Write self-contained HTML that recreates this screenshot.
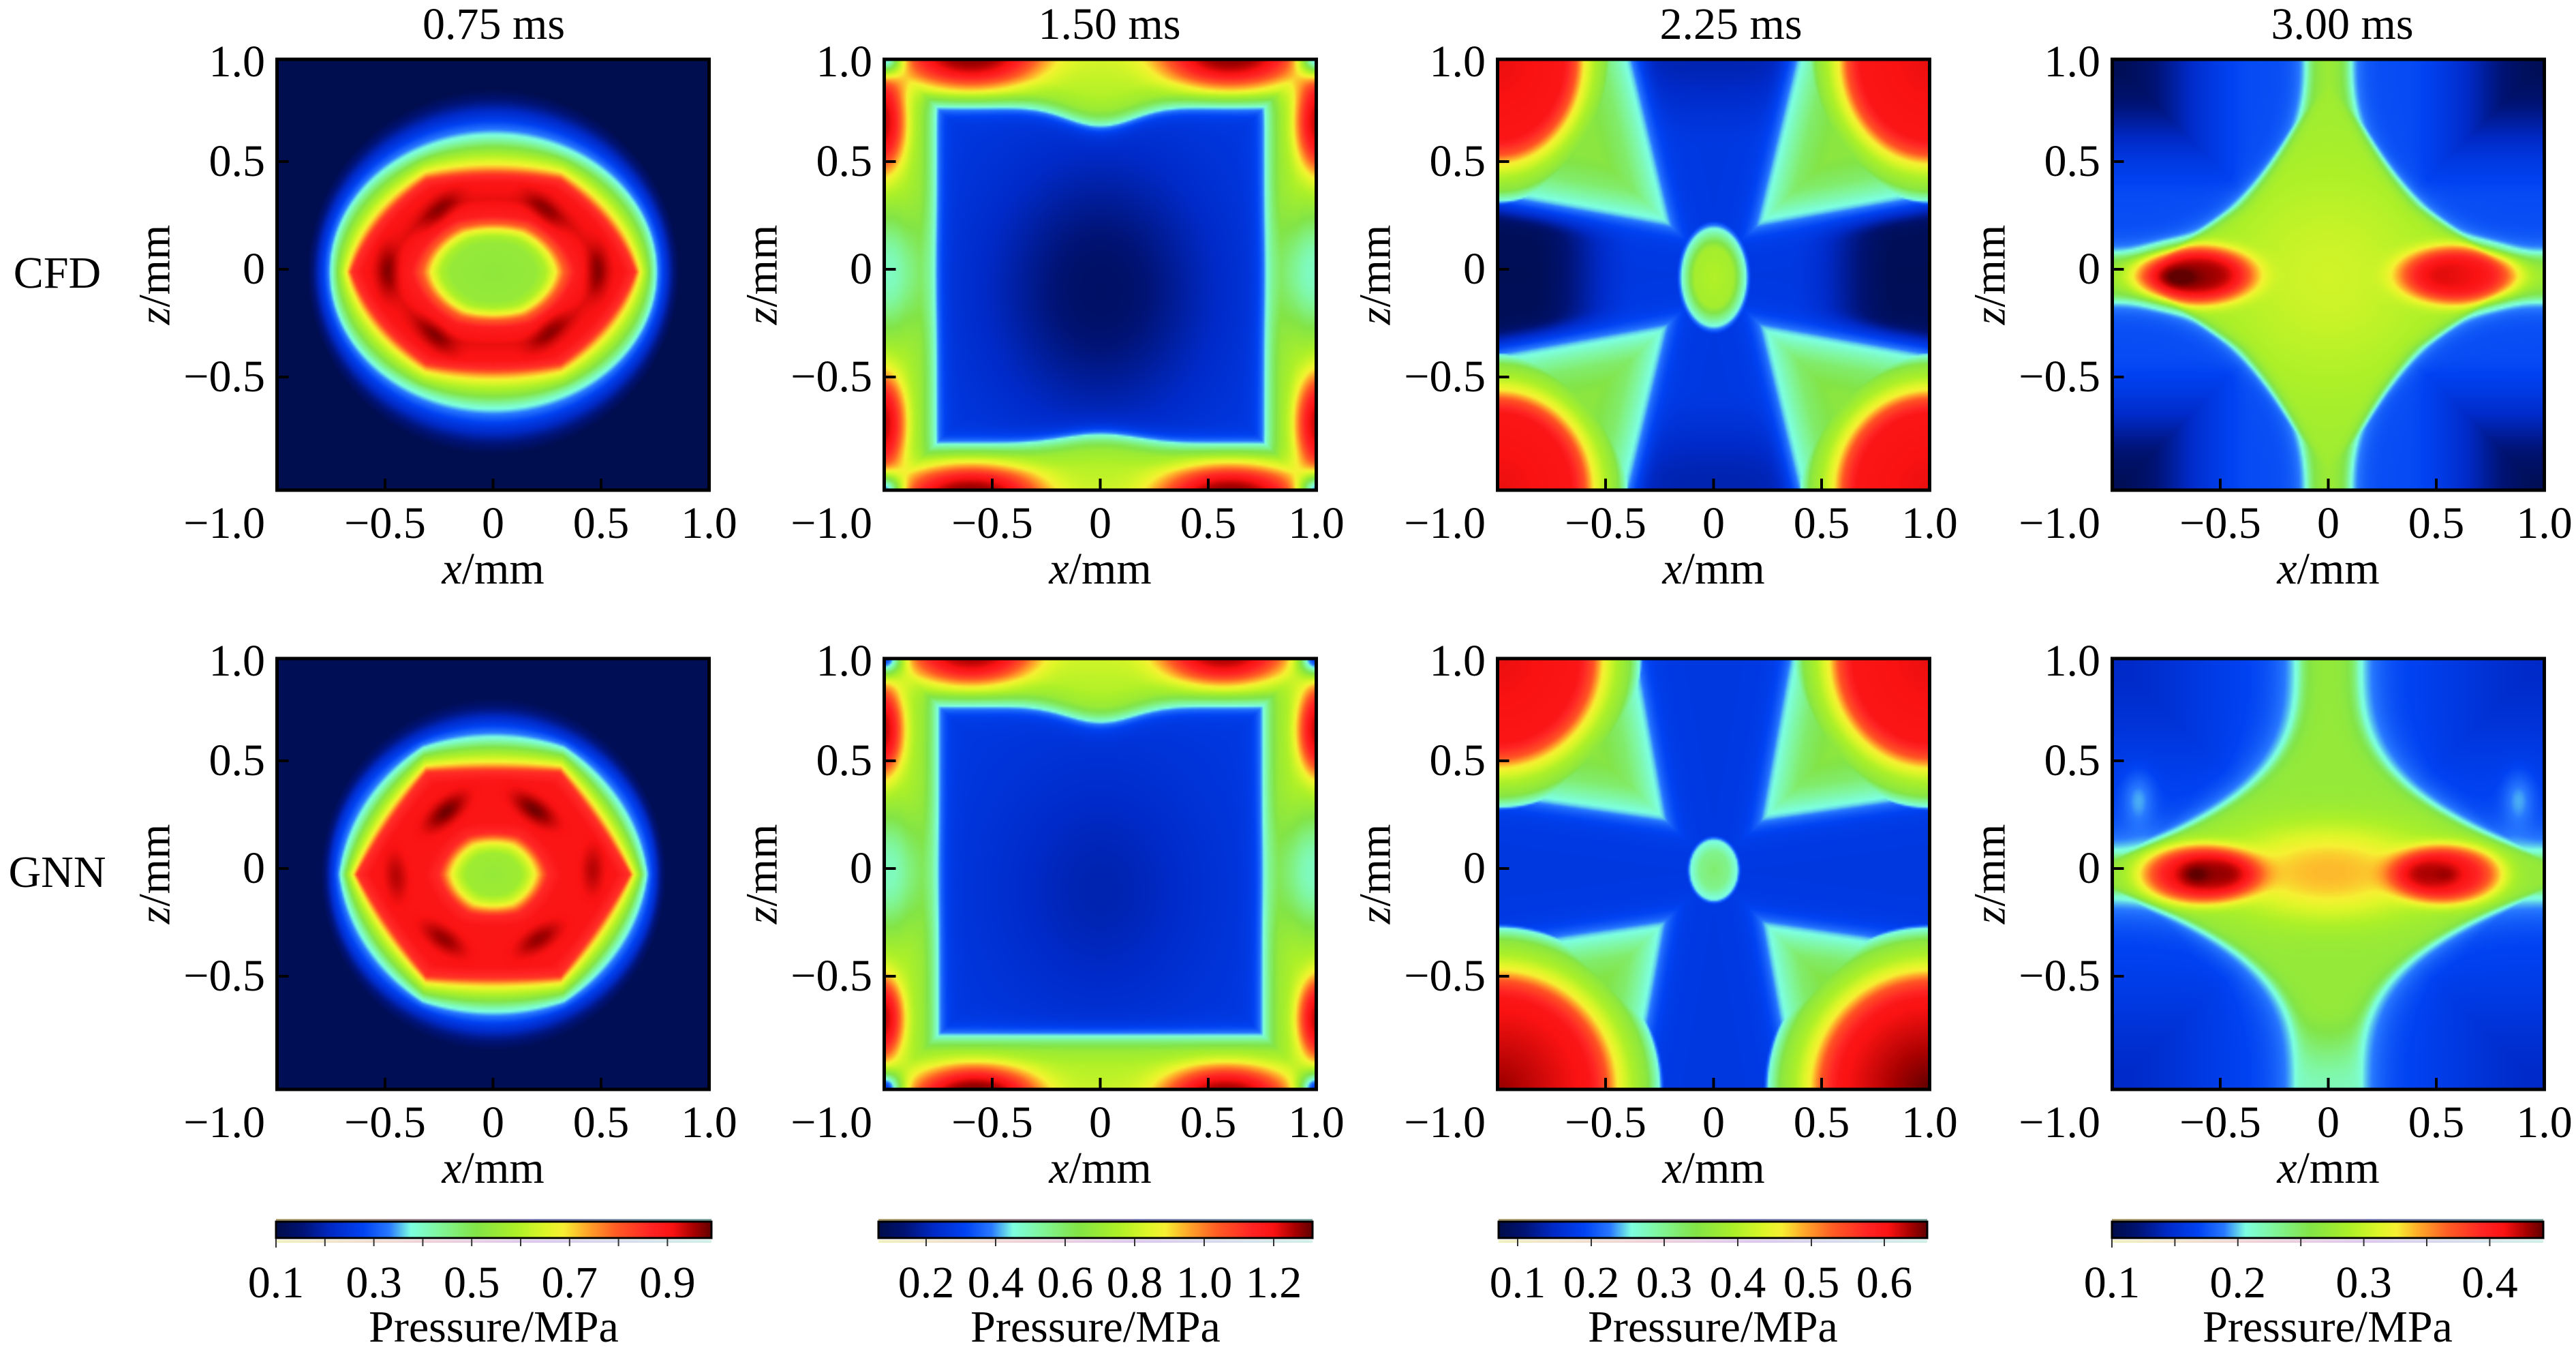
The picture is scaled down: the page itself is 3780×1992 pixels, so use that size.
<!DOCTYPE html>
<html><head><meta charset="utf-8">
<style>
html,body{margin:0;padding:0;background:#fff;}
body{width:3780px;height:1992px;position:relative;overflow:hidden;}
canvas{position:absolute;display:block;}
svg{position:absolute;left:0;top:0;}
text{font-family:"Liberation Serif","DejaVu Serif",serif;font-size:66px;fill:#000;}
</style></head><body>
<canvas id="c0" width="240" height="240" style="left:406.5px;top:87px;width:634px;height:632px;background:#000c48"></canvas>
<canvas id="c1" width="240" height="240" style="left:1297.5px;top:87px;width:634px;height:632px;background:#0a3ad0"></canvas>
<canvas id="c2" width="240" height="240" style="left:2197.5px;top:87px;width:634px;height:632px;background:#0a3ad0"></canvas>
<canvas id="c3" width="240" height="240" style="left:3099.5px;top:87px;width:634px;height:632px;background:#0a3ad0"></canvas>
<canvas id="c4" width="240" height="240" style="left:406.5px;top:966px;width:634px;height:632px;background:#000c48"></canvas>
<canvas id="c5" width="240" height="240" style="left:1297.5px;top:966px;width:634px;height:632px;background:#0a3ad0"></canvas>
<canvas id="c6" width="240" height="240" style="left:2197.5px;top:966px;width:634px;height:632px;background:#0a3ad0"></canvas>
<canvas id="c7" width="240" height="240" style="left:3099.5px;top:966px;width:634px;height:632px;background:#0a3ad0"></canvas>

<svg width="3780" height="1992" viewBox="0 0 3780 1992">
<defs>
<linearGradient id="jet" x1="0" y1="0" x2="1" y2="0">
<stop offset="0" stop-color="rgb(0,12,72)"/>
<stop offset="0.06" stop-color="rgb(0,18,115)"/>
<stop offset="0.13" stop-color="rgb(0,42,200)"/>
<stop offset="0.20" stop-color="rgb(0,66,242)"/>
<stop offset="0.26" stop-color="rgb(40,120,255)"/>
<stop offset="0.31" stop-color="rgb(125,255,225)"/>
<stop offset="0.38" stop-color="rgb(128,245,150)"/>
<stop offset="0.46" stop-color="rgb(130,228,70)"/>
<stop offset="0.55" stop-color="rgb(172,240,40)"/>
<stop offset="0.62" stop-color="rgb(222,246,40)"/>
<stop offset="0.66" stop-color="rgb(246,240,50)"/>
<stop offset="0.71" stop-color="rgb(255,172,42)"/>
<stop offset="0.78" stop-color="rgb(255,92,36)"/>
<stop offset="0.86" stop-color="rgb(255,36,36)"/>
<stop offset="0.91" stop-color="rgb(250,18,18)"/>
<stop offset="0.96" stop-color="rgb(168,0,0)"/>
<stop offset="1" stop-color="rgb(96,0,0)"/>
</linearGradient>
<linearGradient id="art1" x1="0" y1="0" x2="1" y2="0">
<stop offset="0" stop-color="#b0a070"/><stop offset="0.3" stop-color="#a08890"/><stop offset="0.6" stop-color="#8080b8"/><stop offset="1" stop-color="#80a8a0"/>
</linearGradient>
<linearGradient id="art2" x1="0" y1="0" x2="1" y2="0">
<stop offset="0" stop-color="#f0f0c0"/><stop offset="0.35" stop-color="#f0d0d8"/><stop offset="0.6" stop-color="#dcc8f0"/><stop offset="1" stop-color="#d0f0e8"/>
</linearGradient>
</defs>

<!-- titles -->
<text x="724.5" y="57" text-anchor="middle">0.75 ms</text>
<text x="1628" y="57" text-anchor="middle">1.50 ms</text>
<text x="2540" y="57" text-anchor="middle">2.25 ms</text>
<text x="3437" y="57" text-anchor="middle">3.00 ms</text>

<!-- row labels -->
<text x="84" y="422" text-anchor="middle">CFD</text>
<text x="84" y="1301" text-anchor="middle">GNN</text>

<!-- Row 1 -->
<g transform="translate(406.5,87)">
<path d="M0,150h17M0,308h17M0,466h17M158.5,632v-17M317,632v-17M475.5,632v-17" stroke="#000" stroke-width="4" fill="none"/>
<rect x="0" y="0" width="634" height="632" fill="none" stroke="#000" stroke-width="5"/>
<text x="-17.5" y="25" text-anchor="end">1.0</text>
<text x="-17.5" y="171" text-anchor="end">0.5</text>
<text x="-17.5" y="329" text-anchor="end">0</text>
<text x="-17.5" y="487" text-anchor="end">−0.5</text>
<text x="-17.5" y="702" text-anchor="end">−1.0</text>
<text x="158.5" y="702" text-anchor="middle">−0.5</text>
<text x="317" y="702" text-anchor="middle">0</text>
<text x="475.5" y="702" text-anchor="middle">0.5</text>
<text x="634" y="702" text-anchor="middle">1.0</text>
<text x="317" y="769" text-anchor="middle"><tspan font-style="italic">x</tspan>/mm</text>
<text transform="translate(-158,316) rotate(-90)" text-anchor="middle"><tspan font-style="italic">z</tspan>/mm</text>
</g>
<g transform="translate(1297.5,87)">
<path d="M0,150h17M0,308h17M0,466h17M158.5,632v-17M317,632v-17M475.5,632v-17" stroke="#000" stroke-width="4" fill="none"/>
<rect x="0" y="0" width="634" height="632" fill="none" stroke="#000" stroke-width="5"/>
<text x="-17.5" y="25" text-anchor="end">1.0</text>
<text x="-17.5" y="171" text-anchor="end">0.5</text>
<text x="-17.5" y="329" text-anchor="end">0</text>
<text x="-17.5" y="487" text-anchor="end">−0.5</text>
<text x="-17.5" y="702" text-anchor="end">−1.0</text>
<text x="158.5" y="702" text-anchor="middle">−0.5</text>
<text x="317" y="702" text-anchor="middle">0</text>
<text x="475.5" y="702" text-anchor="middle">0.5</text>
<text x="634" y="702" text-anchor="middle">1.0</text>
<text x="317" y="769" text-anchor="middle"><tspan font-style="italic">x</tspan>/mm</text>
<text transform="translate(-158,316) rotate(-90)" text-anchor="middle"><tspan font-style="italic">z</tspan>/mm</text>
</g>
<g transform="translate(2197.5,87)">
<path d="M0,150h17M0,308h17M0,466h17M158.5,632v-17M317,632v-17M475.5,632v-17" stroke="#000" stroke-width="4" fill="none"/>
<rect x="0" y="0" width="634" height="632" fill="none" stroke="#000" stroke-width="5"/>
<text x="-17.5" y="25" text-anchor="end">1.0</text>
<text x="-17.5" y="171" text-anchor="end">0.5</text>
<text x="-17.5" y="329" text-anchor="end">0</text>
<text x="-17.5" y="487" text-anchor="end">−0.5</text>
<text x="-17.5" y="702" text-anchor="end">−1.0</text>
<text x="158.5" y="702" text-anchor="middle">−0.5</text>
<text x="317" y="702" text-anchor="middle">0</text>
<text x="475.5" y="702" text-anchor="middle">0.5</text>
<text x="634" y="702" text-anchor="middle">1.0</text>
<text x="317" y="769" text-anchor="middle"><tspan font-style="italic">x</tspan>/mm</text>
<text transform="translate(-158,316) rotate(-90)" text-anchor="middle"><tspan font-style="italic">z</tspan>/mm</text>
</g>
<g transform="translate(3099.5,87)">
<path d="M0,150h17M0,308h17M0,466h17M158.5,632v-17M317,632v-17M475.5,632v-17" stroke="#000" stroke-width="4" fill="none"/>
<rect x="0" y="0" width="634" height="632" fill="none" stroke="#000" stroke-width="5"/>
<text x="-17.5" y="25" text-anchor="end">1.0</text>
<text x="-17.5" y="171" text-anchor="end">0.5</text>
<text x="-17.5" y="329" text-anchor="end">0</text>
<text x="-17.5" y="487" text-anchor="end">−0.5</text>
<text x="-17.5" y="702" text-anchor="end">−1.0</text>
<text x="158.5" y="702" text-anchor="middle">−0.5</text>
<text x="317" y="702" text-anchor="middle">0</text>
<text x="475.5" y="702" text-anchor="middle">0.5</text>
<text x="634" y="702" text-anchor="middle">1.0</text>
<text x="317" y="769" text-anchor="middle"><tspan font-style="italic">x</tspan>/mm</text>
<text transform="translate(-158,316) rotate(-90)" text-anchor="middle"><tspan font-style="italic">z</tspan>/mm</text>
</g>

<!-- Row 2 -->
<g transform="translate(406.5,966)">
<path d="M0,150h17M0,308h17M0,466h17M158.5,632v-17M317,632v-17M475.5,632v-17" stroke="#000" stroke-width="4" fill="none"/>
<rect x="0" y="0" width="634" height="632" fill="none" stroke="#000" stroke-width="5"/>
<text x="-17.5" y="25" text-anchor="end">1.0</text>
<text x="-17.5" y="171" text-anchor="end">0.5</text>
<text x="-17.5" y="329" text-anchor="end">0</text>
<text x="-17.5" y="487" text-anchor="end">−0.5</text>
<text x="-17.5" y="702" text-anchor="end">−1.0</text>
<text x="158.5" y="702" text-anchor="middle">−0.5</text>
<text x="317" y="702" text-anchor="middle">0</text>
<text x="475.5" y="702" text-anchor="middle">0.5</text>
<text x="634" y="702" text-anchor="middle">1.0</text>
<text x="317" y="769" text-anchor="middle"><tspan font-style="italic">x</tspan>/mm</text>
<text transform="translate(-158,316) rotate(-90)" text-anchor="middle"><tspan font-style="italic">z</tspan>/mm</text>
</g>
<g transform="translate(1297.5,966)">
<path d="M0,150h17M0,308h17M0,466h17M158.5,632v-17M317,632v-17M475.5,632v-17" stroke="#000" stroke-width="4" fill="none"/>
<rect x="0" y="0" width="634" height="632" fill="none" stroke="#000" stroke-width="5"/>
<text x="-17.5" y="25" text-anchor="end">1.0</text>
<text x="-17.5" y="171" text-anchor="end">0.5</text>
<text x="-17.5" y="329" text-anchor="end">0</text>
<text x="-17.5" y="487" text-anchor="end">−0.5</text>
<text x="-17.5" y="702" text-anchor="end">−1.0</text>
<text x="158.5" y="702" text-anchor="middle">−0.5</text>
<text x="317" y="702" text-anchor="middle">0</text>
<text x="475.5" y="702" text-anchor="middle">0.5</text>
<text x="634" y="702" text-anchor="middle">1.0</text>
<text x="317" y="769" text-anchor="middle"><tspan font-style="italic">x</tspan>/mm</text>
<text transform="translate(-158,316) rotate(-90)" text-anchor="middle"><tspan font-style="italic">z</tspan>/mm</text>
</g>
<g transform="translate(2197.5,966)">
<path d="M0,150h17M0,308h17M0,466h17M158.5,632v-17M317,632v-17M475.5,632v-17" stroke="#000" stroke-width="4" fill="none"/>
<rect x="0" y="0" width="634" height="632" fill="none" stroke="#000" stroke-width="5"/>
<text x="-17.5" y="25" text-anchor="end">1.0</text>
<text x="-17.5" y="171" text-anchor="end">0.5</text>
<text x="-17.5" y="329" text-anchor="end">0</text>
<text x="-17.5" y="487" text-anchor="end">−0.5</text>
<text x="-17.5" y="702" text-anchor="end">−1.0</text>
<text x="158.5" y="702" text-anchor="middle">−0.5</text>
<text x="317" y="702" text-anchor="middle">0</text>
<text x="475.5" y="702" text-anchor="middle">0.5</text>
<text x="634" y="702" text-anchor="middle">1.0</text>
<text x="317" y="769" text-anchor="middle"><tspan font-style="italic">x</tspan>/mm</text>
<text transform="translate(-158,316) rotate(-90)" text-anchor="middle"><tspan font-style="italic">z</tspan>/mm</text>
</g>
<g transform="translate(3099.5,966)">
<path d="M0,150h17M0,308h17M0,466h17M158.5,632v-17M317,632v-17M475.5,632v-17" stroke="#000" stroke-width="4" fill="none"/>
<rect x="0" y="0" width="634" height="632" fill="none" stroke="#000" stroke-width="5"/>
<text x="-17.5" y="25" text-anchor="end">1.0</text>
<text x="-17.5" y="171" text-anchor="end">0.5</text>
<text x="-17.5" y="329" text-anchor="end">0</text>
<text x="-17.5" y="487" text-anchor="end">−0.5</text>
<text x="-17.5" y="702" text-anchor="end">−1.0</text>
<text x="158.5" y="702" text-anchor="middle">−0.5</text>
<text x="317" y="702" text-anchor="middle">0</text>
<text x="475.5" y="702" text-anchor="middle">0.5</text>
<text x="634" y="702" text-anchor="middle">1.0</text>
<text x="317" y="769" text-anchor="middle"><tspan font-style="italic">x</tspan>/mm</text>
<text transform="translate(-158,316) rotate(-90)" text-anchor="middle"><tspan font-style="italic">z</tspan>/mm</text>
</g>

<!-- Colorbars -->
<rect x="405" y="1788" width="639" height="3" fill="url(#art1)"/>
<rect x="405" y="1819" width="639" height="4" fill="url(#art2)"/>
<rect x="405" y="1792" width="639" height="24" fill="url(#jet)" stroke="#000" stroke-width="3"/>
<path d="M405,1817v13M476.8,1817v11M548.6,1817v11M620.4,1817v11M692.2,1817v11M764,1817v11M835.8,1817v11M907.6,1817v11M979.4,1817v11" stroke="#333" stroke-width="2"/>
<text x="405" y="1903" text-anchor="middle">0.1</text>
<text x="548.6" y="1903" text-anchor="middle">0.3</text>
<text x="692.2" y="1903" text-anchor="middle">0.5</text>
<text x="835.8" y="1903" text-anchor="middle">0.7</text>
<text x="979.4" y="1903" text-anchor="middle">0.9</text>
<text x="724.5" y="1968" text-anchor="middle">Pressure/MPa</text>

<rect x="1289" y="1788" width="637" height="3" fill="url(#art1)"/>
<rect x="1289" y="1819" width="637" height="4" fill="url(#art2)"/>
<rect x="1289" y="1792" width="637" height="24" fill="url(#jet)" stroke="#000" stroke-width="3"/>
<path d="M1359,1817v11M1461,1817v11M1563,1817v11M1665,1817v11M1767,1817v11M1869,1817v11" stroke="#333" stroke-width="2"/>
<text x="1359" y="1903" text-anchor="middle">0.2</text>
<text x="1461" y="1903" text-anchor="middle">0.4</text>
<text x="1563" y="1903" text-anchor="middle">0.6</text>
<text x="1665" y="1903" text-anchor="middle">0.8</text>
<text x="1767" y="1903" text-anchor="middle">1.0</text>
<text x="1869" y="1903" text-anchor="middle">1.2</text>
<text x="1607.5" y="1968" text-anchor="middle">Pressure/MPa</text>

<rect x="2199" y="1788" width="629" height="3" fill="url(#art1)"/>
<rect x="2199" y="1819" width="629" height="4" fill="url(#art2)"/>
<rect x="2199" y="1792" width="629" height="24" fill="url(#jet)" stroke="#000" stroke-width="3"/>
<path d="M2227,1817v11M2335,1817v11M2442,1817v11M2550,1817v11M2658,1817v11M2765,1817v11" stroke="#333" stroke-width="2"/>
<text x="2227" y="1903" text-anchor="middle">0.1</text>
<text x="2335" y="1903" text-anchor="middle">0.2</text>
<text x="2442" y="1903" text-anchor="middle">0.3</text>
<text x="2550" y="1903" text-anchor="middle">0.4</text>
<text x="2658" y="1903" text-anchor="middle">0.5</text>
<text x="2765" y="1903" text-anchor="middle">0.6</text>
<text x="2513.5" y="1968" text-anchor="middle">Pressure/MPa</text>

<rect x="3099" y="1788" width="633" height="3" fill="url(#art1)"/>
<rect x="3099" y="1819" width="633" height="4" fill="url(#art2)"/>
<rect x="3099" y="1792" width="633" height="24" fill="url(#jet)" stroke="#000" stroke-width="3"/>
<path d="M3099,1817v13M3191.4,1817v11M3283.8,1817v11M3376.2,1817v11M3468.6,1817v11M3561,1817v11M3653.4,1817v11" stroke="#333" stroke-width="2"/>
<text x="3099" y="1903" text-anchor="middle">0.1</text>
<text x="3283.8" y="1903" text-anchor="middle">0.2</text>
<text x="3468.6" y="1903" text-anchor="middle">0.3</text>
<text x="3653.4" y="1903" text-anchor="middle">0.4</text>
<text x="3415.5" y="1968" text-anchor="middle">Pressure/MPa</text>
</svg>

<script>
(function(){
var CM=[[0,0,12,72],[0.06,0,18,115],[0.13,0,42,200],[0.2,0,66,242],[0.26,40,120,255],[0.31,125,255,225],[0.38,128,245,150],[0.46,130,228,70],[0.55,172,240,40],[0.62,222,246,40],[0.66,246,240,50],[0.71,255,172,42],[0.78,255,92,36],[0.86,255,36,36],[0.91,250,18,18],[0.96,168,0,0],[1,96,0,0]];
function sq(v){return v*v;}
function cmap(t){
  var i,a,b,f,e;
  if(!(t>0)) return [CM[0][1],CM[0][2],CM[0][3]];
  if(t>=1){e=CM[CM.length-1];return [e[1],e[2],e[3]];}
  for(i=1;i<CM.length;i++){ if(t<=CM[i][0]){ a=CM[i-1];b=CM[i];f=(t-a[0])/(b[0]-a[0]); return [a[1]+(b[1]-a[1])*f,a[2]+(b[2]-a[2])*f,a[3]+(b[3]-a[3])*f]; } }
  e=CM[CM.length-1];return [e[1],e[2],e[3]];
}
function sm(a,b,x){var t=Math.min(1,Math.max(0,(x-a)/(b-a)));return t*t*(3-2*t);}
function pf(d,p){ if(d<=p[0][0]) return p[0][1]; for(var i=1;i<p.length;i++){ if(d<=p[i][0]){ var f=(d-p[i-1][0])/(p[i][0]-p[i-1][0]); return p[i-1][1]+(p[i][1]-p[i-1][1])*f; } } return p[p.length-1][1]; }
function gp(x,z,cx,cz,sx,sz,p){var q=sq((x-cx)/sx)+sq((z-cz)/sz); return Math.exp(-Math.pow(q,p));}
function gr(x,z,cx,cz,st,sr){ var r=Math.sqrt(cx*cx+cz*cz)||1, ux=cx/r, uz=cz/r; var dx=x-cx, dz=z-cz; var a=dx*ux+dz*uz, b=-dx*uz+dz*ux; return Math.exp(-sq(a/sr)-sq(b/st)); }

/* ring panels */
function hexn(x,z,a,h){ var ax=Math.abs(x), az=Math.abs(z); return Math.max(az/h, ax/a+az/(2*h)); }
function rn(x,zz,a,h,w){ return (1-w)*hexn(x,zz,a,h)+w*Math.sqrt(sq(x/a)+sq(zz/h)); }
function ringS(x,z,P){
  var zz=z-P.zc;
  var hx=hexn(x,zz,P.a,P.h);
  if(hx<=1.05){ var w=P.w0+(1-P.w0)*Math.max(0,1-hx); var s0=rn(x,zz,P.a,P.h,w); if(s0<=1) return s0; }
  function N(s){var A=P.a+P.da*(s-1), Hh=P.h+P.dh*(s-1), m=Math.min(1,P.w0+(s-1)*P.mr); return rn(x,zz,A,Hh,m);}
  var lo=1, hi=4;
  for(var k=0;k<22;k++){ var mid=(lo+hi)/2; if(N(mid)>1) lo=mid; else hi=mid; }
  return (lo+hi)/2;
}
function ring(P,PR,S){return function(x,z){var t=pf(ringS(x,z,P),PR);for(var i=0;i<S.length;i++){var s=S[i];t+=s[2]*gr(x,z,s[0],s[1],0.11,0.05);}return t;};}
var P1={a:0.655,h:0.45,zc:-0.015,da:0.33,dh:0.64,mr:2,w0:0.5};
var PR1=[[0,0.49],[0.3,0.5],[0.37,0.55],[0.44,0.66],[0.5,0.78],[0.58,0.88],[0.75,0.92],[0.92,0.9],[1.0,0.84],[1.05,0.71],[1.1,0.62],[1.18,0.5],[1.27,0.34],[1.33,0.26],[1.42,0.17],[1.52,0.08],[1.62,0.01]];
var S1=[[-0.25,0.27,0.06],[0.24,0.27,0.06],[-0.49,-0.01,0.06],[0.48,-0.01,0.06],[-0.27,-0.31,0.06],[0.26,-0.29,0.06]];
var P5={a:0.63,h:0.48,zc:-0.03,da:0.27,dh:0.54,mr:2,w0:0.15};
var PR5=[[0,0.5],[0.2,0.52],[0.27,0.6],[0.33,0.7],[0.4,0.85],[0.5,0.9],[0.9,0.9],[1.0,0.84],[1.05,0.71],[1.1,0.62],[1.18,0.5],[1.27,0.34],[1.33,0.26],[1.42,0.17],[1.52,0.08],[1.62,0.02]];
var S5=[[-0.22,0.26,0.09],[0.19,0.27,0.09],[-0.45,-0.04,0.05],[0.46,-0.01,0.05],[-0.23,-0.33,0.07],[0.21,-0.33,0.07]];

/* box panels */
var CORN=[[-1,0.972],[1,0.972],[-1,-1.028],[1,-1.028]];
function box(o){ return function(x,z){
  var ax=Math.abs(x), i;
  var topE=o.top-o.dip*Math.exp(-sq(x/0.22));
  var botE=o.bot+o.bump*Math.exp(-sq(x/0.25));
  var dIn=Math.min(o.xr-ax, topE-z, z-botE);
  var t;
  if(dIn>0){ var core=Math.exp(-(sq(x/0.5)+sq((z+0.1)/0.6))); var base=0.17-o.core*core; t=base+(0.32-base)*Math.exp(-dIn/0.03); }
  else t=pf(-dIn,[[0,0.32],[0.03,0.42],[0.07,0.51],[0.14,0.56],[0.3,0.6]]);
  for(i=0;i<o.spots.length;i++){var s=o.spots[i]; t+=s[4]*gp(x,z,s[0],s[1],s[2],s[3],1.4);}
  t-=0.24*gp(ax,z,1.0,-0.02,0.16,0.3,1.2);
  for(i=0;i<4;i++) t-=0.45*gp(x,z,CORN[i][0],CORN[i][1],0.08,0.08,1);
  return t; };}
var B2={xr:0.765,top:0.756,dip:0.09,bot:-0.817,bump:0.045,core:0.13,spots:[[-0.6,0.99,0.34,0.17,0.4],[0.6,0.99,0.34,0.17,0.4],[-0.6,-1.05,0.34,0.15,0.4],[0.6,-1.05,0.34,0.15,0.4],[-1.01,0.68,0.11,0.24,0.36],[1.01,0.68,0.11,0.24,0.36],[-1.01,-0.72,0.11,0.24,0.36],[1.01,-0.72,0.11,0.24,0.36]]};
var B6={xr:0.755,top:0.755,dip:0.075,bot:-0.78,bump:0,core:0.06,spots:[[-0.6,0.99,0.3,0.15,0.38],[0.57,0.99,0.3,0.15,0.38],[-0.58,-1.05,0.3,0.14,0.4],[0.58,-1.05,0.3,0.14,0.38],[-1.01,0.64,0.1,0.22,0.36],[1.01,0.64,0.1,0.22,0.36],[-1.01,-0.7,0.1,0.2,0.36],[1.01,-0.7,0.1,0.2,0.36]]};

/* cross panels */
var CPF=[[0,0],[0.85,0.9],[1,0.8],[1.1,0.67],[1.25,0.55],[1.38,0.48],[1.5,0.3],[1.6,0]];
function cross(o){ return function(x,z){
  var zz=z-o.zc, ax=Math.abs(x), az=Math.abs(z);
  var hw=o.h0+o.h1*ax, vw=o.v0+o.v1*az;
  var dh=Math.abs(zz)-hw, dv=ax-vw, d=Math.min(dh,dv);
  var t;
  if(d<0){ var tb=0.17; if(o.navy){ tb-=0.15*sm(0.35,0.85,ax)*sm(0,0.15,-dh); tb-=0.06*sm(0.55,1,az)*sm(0,0.12,-dv);} t=tb+(0.29-tb)*Math.exp(d/0.045); }
  else t=pf(d,[[0,0.29],[0.05,0.35],[0.12,0.42],[0.25,0.48]]);
  var e=Math.sqrt(sq(x/o.ex)+sq((z-o.ecz)/o.ez));
  t=Math.max(t,pf(e,[[0,o.et],[0.6,o.et-0.03],[1,0.3],[1.35,0]]));
  for(var i=0;i<o.corners.length;i++){ var c=o.corners[i]; var dx=Math.max(0,1-x*c[0]); var dz=Math.max(0,c[1]>0?0.972-z:z+1.028); var q=Math.sqrt(sq(dx/c[2])+sq(dz/c[3])); if(q<1.6){ CPF[0][1]=c[4]; t=Math.max(t,pf(q,CPF)); } }
  return t; };}
var C3={zc:-0.03,h0:0.2,h1:0.18,v0:0.16,v1:0.24,navy:1,ex:0.15,ez:0.23,ecz:-0.04,et:0.56,corners:[[-1,1,0.36,0.44,0.92],[1,1,0.38,0.44,0.92],[-1,-1,0.4,0.42,0.92],[1,-1,0.4,0.42,0.92]]};
var C7={zc:-0.015,h0:0.21,h1:0.145,v0:0.19,v1:0.18,navy:0,ex:0.11,ez:0.14,ecz:-0.01,et:0.42,corners:[[-1,1,0.44,0.46,0.92],[1,1,0.42,0.46,0.92],[-1,-1,0.5,0.5,0.97],[1,-1,0.5,0.5,1.0]]};

/* star panels */
function star(o){ return function(x,z){
  var zz=z-o.zc, ax=Math.abs(x), az=Math.abs(zz);
  var wv=o.v0+o.v1*Math.pow(Math.max(0,1-az),o.vp);
  var wh=o.h0+o.h1*Math.pow(Math.max(0,1-ax),o.hp);
  var d=Math.min(ax-wv, az-wh);
  var g=Math.min(ax,az);
  var bg=o.bg-o.dark*sm(0.35,1.0,g);
  var inner=o.in0+o.in1*Math.exp(-(x*x+zz*zz)/0.25)-o.bot*sm(0.6,1.0,-zz);
  var t= d<0 ? inner-(inner-0.33)*Math.exp(d/0.035) : bg+(0.33-bg)*Math.exp(-d/o.halo);
  for(var i=0;i<o.blobs.length;i++){var b=o.blobs[i]; t+=b[4]*gp(x,z,b[0],b[1],b[2],b[3],b[5]);}
  return t; };}
var S4={zc:-0.04,v0:0.1,v1:0.9,vp:2.5,h0:0.11,h1:0.9,hp:2.5,bg:0.21,dark:0.19,halo:0.04,in0:0.52,in1:0.08,bot:0,blobs:[[-0.62,-0.03,0.28,0.14,0.42,2],[0.6,-0.03,0.28,0.14,0.38,2],[-0.7,-0.04,0.1,0.05,0.07,1]]};
var S8={zc:-0.03,v0:0.14,v1:1.1,vp:3,h0:0.1,h1:0.6,hp:2.5,bg:0.19,dark:0.06,halo:0.09,in0:0.5,in1:0,bot:0.15,blobs:[[0,-0.02,0.5,0.22,0.2,1.3],[-0.6,-0.03,0.28,0.14,0.4,2],[0.55,-0.03,0.26,0.14,0.37,2],[-0.62,-0.03,0.07,0.05,0.07,1],[0.55,-0.03,0.06,0.04,0.04,1],[-0.88,0.32,0.07,0.12,0.08,1],[0.88,0.32,0.07,0.12,0.08,1]]};

function render(id,f){
  var c=document.getElementById(id); if(!c||!c.getContext) return;
  var ctx=c.getContext('2d'); if(!ctx) return;
  var N=c.width, M=c.height;
  var img=ctx.createImageData(N,M), d=img.data;
  for(var j=0;j<M;j++){ var v=(j+0.5)/M, z=(0.486-v)/0.5;
    for(var i=0;i<N;i++){ var u=(i+0.5)/N, x=2*u-1;
      var col=cmap(f(x,z)); var k=(j*N+i)*4; d[k]=col[0]; d[k+1]=col[1]; d[k+2]=col[2]; d[k+3]=255; } }
  ctx.putImageData(img,0,0);
}
var list=[['c0',ring(P1,PR1,S1)],['c1',box(B2)],['c2',cross(C3)],['c3',star(S4)],['c4',ring(P5,PR5,S5)],['c5',box(B6)],['c6',cross(C7)],['c7',star(S8)]];
for(var n=0;n<list.length;n++){ try{ render(list[n][0],list[n][1]); }catch(err){} }
})();
</script>
</body></html>
